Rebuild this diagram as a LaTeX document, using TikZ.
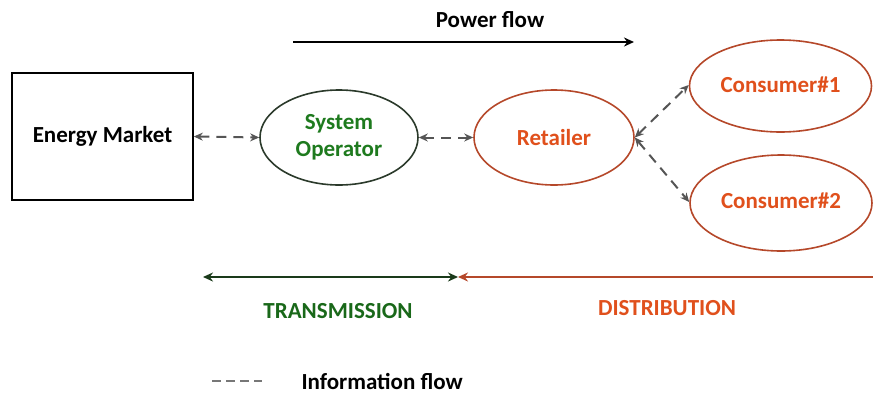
\documentclass[tikz,border=0pt]{standalone}
\usepackage{fontspec}
\setmainfont{Carlito}
\usetikzlibrary{arrows.meta,shapes.geometric}
\definecolor{infogray}{HTML}{555555}
\definecolor{sogreen}{HTML}{1E7A1E}
\definecolor{soedge}{HTML}{2B3A2B}
\definecolor{retedge}{HTML}{B5482A}
\definecolor{rettext}{HTML}{E0501C}
\definecolor{transline}{HTML}{1A3A1A}
\tikzset{
  lbl/.style={font=\bfseries\fontsize{23}{26}\selectfont},
  unit/.style={ellipse, draw, line width=1.6pt, inner sep=0pt, lbl, align=center},
  info/.style={draw=infogray, line width=2pt, dash pattern=on 10pt off 7pt,
    {Stealth[length=9pt,width=8pt]}-{Stealth[length=9pt,width=8pt]}},
}
\begin{document}
\begin{tikzpicture}[x=1pt,y=-1pt]
\useasboundingbox (0,0) rectangle (873,394);
% participants
\node[draw, line width=1.6pt, minimum width=181pt, minimum height=127pt, lbl]
  (market) at (102.5,136.5) {\raisebox{2pt}{Energy Market}};
\node[unit, draw=soedge, text=sogreen, minimum width=158pt, minimum height=95pt]
  (so) at (339,137.5) {System\\[1pt]Operator};
\node[unit, draw=retedge, text=rettext, minimum width=160pt, minimum height=95pt]
  (ret) at (554,137.5) {Retailer};
\node[unit, draw=retedge, text=rettext, minimum width=182pt, minimum height=92pt]
  (c1) at (780.5,86) {\raisebox{3pt}{Consumer\#1}};
\node[unit, draw=retedge, text=rettext, minimum width=182pt, minimum height=96pt]
  (c2) at (781,203) {\raisebox{4pt}{Consumer\#2}};
% information exchange
\draw[info] (market.east) -- (so.west);
\draw[info] (so.east) -- (ret.west);
\draw[info] (ret.east) -- (c1.west |- 0,85);
\draw[info] (ret.east) -- (c2.west |- 0,202);
% power flow
\node[lbl] (pf) at (490,20) {Power flow};
\coordinate (pfa) at (293,42);
\coordinate (pfb) at (634,42);
\draw[line width=1.8pt, -{Stealth[length=10pt,width=9pt]}] (pfa) -- (pfb);
% transmission and distribution ranges
\coordinate (tl) at (203,277);
\coordinate (tm) at (458,277);
\coordinate (tr) at (873,277);
\draw[transline, line width=1.8pt, {Stealth[length=10pt,width=9pt]}-{Stealth[length=10pt,width=9pt]}] (tl) -- (tm);
\draw[retedge, line width=1.8pt, {Stealth[length=10pt,width=9pt]}-] (tm) -- (tr);
\node[lbl, text=sogreen!85!black] (tx) at (338,311) {TRANSMISSION};
\node[lbl, text=rettext] (dx) at (667,308) {DISTRIBUTION};
% legend
\coordinate (la) at (212,381);
\coordinate (lb) at (262,381);
\draw[draw=infogray!80, line width=2pt, dash pattern=on 9pt off 5pt] (la) -- (lb);
\node[lbl, anchor=west] (lt) at (298,381) {Information flow};
\end{tikzpicture}
\end{document}
